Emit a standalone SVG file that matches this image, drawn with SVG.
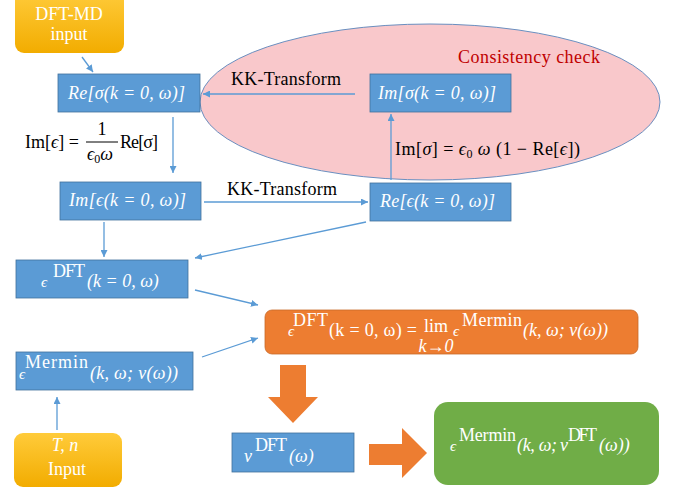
<svg xmlns="http://www.w3.org/2000/svg" width="679" height="489" viewBox="0 0 679 489">
<defs>
<linearGradient id="gold" x1="0" y1="0" x2="0" y2="1">
<stop offset="0" stop-color="#FFCB3A"/>
<stop offset="1" stop-color="#F2AC00"/>
</linearGradient>
<marker id="ah" viewBox="0 0 10 10" refX="10" refY="5" markerWidth="7" markerHeight="7" markerUnits="userSpaceOnUse" orient="auto">
<path d="M0,0 L10,5 L0,10 z" fill="#5B9BD5"/>
</marker>
</defs>
<style>
.box{fill:#5B9BD5;stroke:#41719C;stroke-width:0.8}
.gold{fill:url(#gold)}
.t{font-family:"Liberation Serif","DejaVu Serif",serif;font-size:18px;fill:#fff}
.it{font-style:italic}
.e{font-style:italic;font-size:15px}
.lbl{font-family:"Liberation Serif","DejaVu Serif",serif;font-size:18px;fill:#000}
.con{stroke:#5B9BD5;stroke-width:1.3;fill:none;marker-end:url(#ah)}
</style>
<rect width="679" height="489" fill="#fff"/>
<g id="ellipse">
<ellipse cx="430" cy="102" rx="230" ry="78" fill="#F9C8CB" stroke="#6A8FC0" stroke-width="1"/>
<text x="458" y="63" textLength="142" font-family="'Liberation Serif','DejaVu Serif',serif" font-size="18" fill="#C00000">Consistency check</text>
</g>
<g id="dftmd">
<rect class="gold" x="15" y="-8" width="109" height="61" rx="9"/>
<text class="t" x="69" y="20" text-anchor="middle">DFT-MD</text>
<text class="t" x="69" y="40" text-anchor="middle">input</text>
</g>
<g id="resigma">
<rect class="box" x="58" y="74" width="142" height="38"/>
<text class="t it" x="68" y="99" textLength="117">Re[σ(k = 0, ω)]</text>
</g>
<g id="imsigma">
<rect class="box" x="370" y="74" width="141" height="38"/>
<text class="t it" x="378" y="99" textLength="118">Im[σ(k = 0, ω)]</text>
</g>
<g id="imeps">
<rect class="box" x="60" y="182" width="141" height="38"/>
<text class="t it" x="69" y="206" textLength="117">Im[ϵ(k = 0, ω)]</text>
</g>
<g id="reeps">
<rect class="box" x="370" y="183" width="141" height="38"/>
<text class="t it" x="380" y="207" textLength="115">Re[ϵ(k = 0, ω)]</text>
</g>
<g id="epsdft">
<rect class="box" x="16" y="260" width="172" height="38"/>
<text class="t e" x="41" y="287">ϵ</text>
<text class="t" x="53" y="277" textLength="32">DFT</text>
<text class="t it" x="87" y="287">(k = 0, ω)</text>
</g>
<g id="epsmermin">
<rect class="box" x="16" y="352" width="177" height="38"/>
<text class="t e" x="19" y="379">ϵ</text>
<text class="t" x="25" y="368" textLength="63">Mermin</text>
<text class="t it" x="90" y="379" textLength="88">(k, ω; ν(ω))</text>
</g>
<g id="tninput">
<rect class="gold" x="14" y="433" width="108" height="54" rx="9"/>
<text class="t it" x="65" y="451" text-anchor="middle">T, n</text>
<text class="t" x="67" y="475" text-anchor="middle">Input</text>
</g>
<g id="limit">
<rect x="265" y="310" width="373" height="44" rx="7" fill="#ED7D31" stroke="#C86A2A" stroke-width="0.8"/>
<text class="t e" x="288" y="336">ϵ</text>
<text class="t" x="293" y="326" textLength="35">DFT</text>
<text class="t" x="329" y="336" textLength="88">(k = 0, ω) =</text>
<text class="t" x="436" y="332" font-size="15" text-anchor="middle">lim</text>
<text class="t it" x="436" y="352" font-size="10" text-anchor="middle">k→0</text>
<text class="t e" x="453" y="336">ϵ</text>
<text class="t" x="462" y="326" textLength="60">Mermin</text>
<text class="t it" x="523" y="336" textLength="85">(k, ω; ν(ω))</text>
</g>
<g id="nudft">
<rect class="box" x="232" y="433" width="122" height="39"/>
<text class="t it" x="244" y="462">ν</text>
<text class="t" x="255" y="451" textLength="32">DFT</text>
<text class="t it" x="289" y="462" font-size="19">(ω)</text>
</g>
<g id="result">
<rect x="434" y="402" width="225" height="83" rx="14" fill="#70AD47"/>
<text class="t e" x="450" y="451">ϵ</text>
<text class="t" x="459" y="441" textLength="57">Mermin</text>
<text class="t it" x="517" y="451" textLength="40">(k, ω;</text>
<text class="t it" x="560" y="451">ν</text>
<text class="t" x="568" y="441" textLength="29">DFT</text>
<text class="t it" x="599" y="451" font-size="19">(ω))</text>
</g>
<g id="connectors">
<line class="con" x1="82" y1="57" x2="93" y2="72"/>
<line class="con" x1="355" y1="94" x2="203" y2="94"/>
<line class="con" x1="173" y1="117" x2="173" y2="173"/>
<line class="con" x1="204" y1="202" x2="368" y2="202"/>
<line class="con" x1="391" y1="180" x2="391" y2="114"/>
<line class="con" x1="104" y1="222" x2="104" y2="257"/>
<line class="con" x1="366" y1="222" x2="195" y2="258"/>
<line class="con" x1="195" y1="290" x2="258" y2="305"/>
<line class="con" x1="202" y1="357" x2="258" y2="338"/>
<line class="con" x1="57" y1="430" x2="57" y2="397"/>
<path d="M280,365 H306 V397 H318 L293,423 L268,397 H280 Z" fill="#ED7D31"/>
<path d="M369,444 H402 V428 L427,453 L402,478 V465 H369 Z" fill="#ED7D31"/>
</g>
<g id="labels">
<text class="lbl" x="231" y="85" textLength="110">KK-Transform</text>
<text class="lbl" x="227" y="195" textLength="110">KK-Transform</text>
<text class="lbl" x="25" y="148">Im[<tspan font-style="italic">ϵ</tspan>] =</text>
<text class="lbl" x="102" y="135" text-anchor="middle">1</text>
<line x1="86" y1="142" x2="118" y2="142" stroke="#000" stroke-width="1"/>
<text class="lbl" x="87" y="160" font-style="italic">ϵ<tspan font-size="12" dy="3" font-style="normal">0</tspan><tspan dy="-3">ω</tspan></text>
<text class="lbl" x="120" y="148" textLength="38">Re[σ]</text>
<text class="lbl" x="395" y="155" textLength="185">Im[<tspan font-style="italic">σ</tspan>] = <tspan font-style="italic">ϵ</tspan><tspan font-size="12" dy="3">0</tspan><tspan dy="-3"> </tspan><tspan font-style="italic">ω</tspan> (1 − Re[<tspan font-style="italic">ϵ</tspan>])</text>
</g>
</svg>
